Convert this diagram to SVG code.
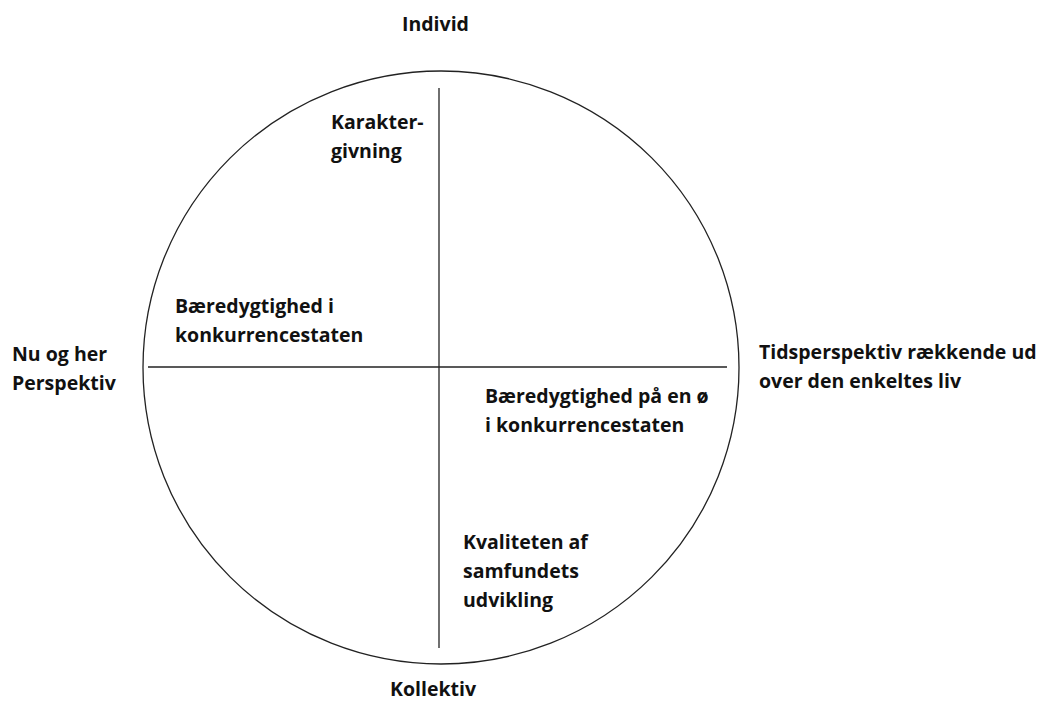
<svg xmlns="http://www.w3.org/2000/svg" width="1041" height="702" viewBox="0 0 1041 702">
  <style>
    .frame { fill: none; stroke: #222; stroke-width: 1.3; }
    .axis { stroke: #222; stroke-width: 1.3; }
    .lbl { font-family: "Open Sans", "Noto Sans", "Liberation Sans", sans-serif; font-weight: bold; font-size: 19.5px; fill: #111; }
  </style>
  <rect width="1041" height="702" fill="#ffffff"/>
  <g id="circle">
    <ellipse class="frame" cx="441" cy="367.5" rx="298" ry="296.5"/>
  </g>
  <g id="axes">
    <line class="axis" x1="439" y1="88" x2="439" y2="648"/>
    <line class="axis" x1="148" y1="367" x2="727" y2="367"/>
  </g>
  <g id="individ"><text class="lbl" x="402" y="31">Individ</text></g>
  <g id="kollektiv"><text class="lbl" x="390" y="696">Kollektiv</text></g>
  <g id="nu-og-her">
    <text class="lbl" x="12" y="361">Nu og her</text>
    <text class="lbl" x="12" y="390">Perspektiv</text>
  </g>
  <g id="tidsperspektiv">
    <text class="lbl" x="759" y="359">Tidsperspektiv rækkende ud</text>
    <text class="lbl" x="759" y="388">over den enkeltes liv</text>
  </g>
  <g id="karaktergivning">
    <text class="lbl" x="331" y="129">Karakter-</text>
    <text class="lbl" x="331" y="158">givning</text>
  </g>
  <g id="baeredygtighed">
    <text class="lbl" x="175" y="313">Bæredygtighed i</text>
    <text class="lbl" x="175" y="342">konkurrencestaten</text>
  </g>
  <g id="baeredygtighed-oe">
    <text class="lbl" x="485" y="403">Bæredygtighed på en ø</text>
    <text class="lbl" x="485" y="432">i konkurrencestaten</text>
  </g>
  <g id="kvaliteten">
    <text class="lbl" x="463" y="549">Kvaliteten af</text>
    <text class="lbl" x="463" y="578">samfundets</text>
    <text class="lbl" x="463" y="607">udvikling</text>
  </g>
</svg>
